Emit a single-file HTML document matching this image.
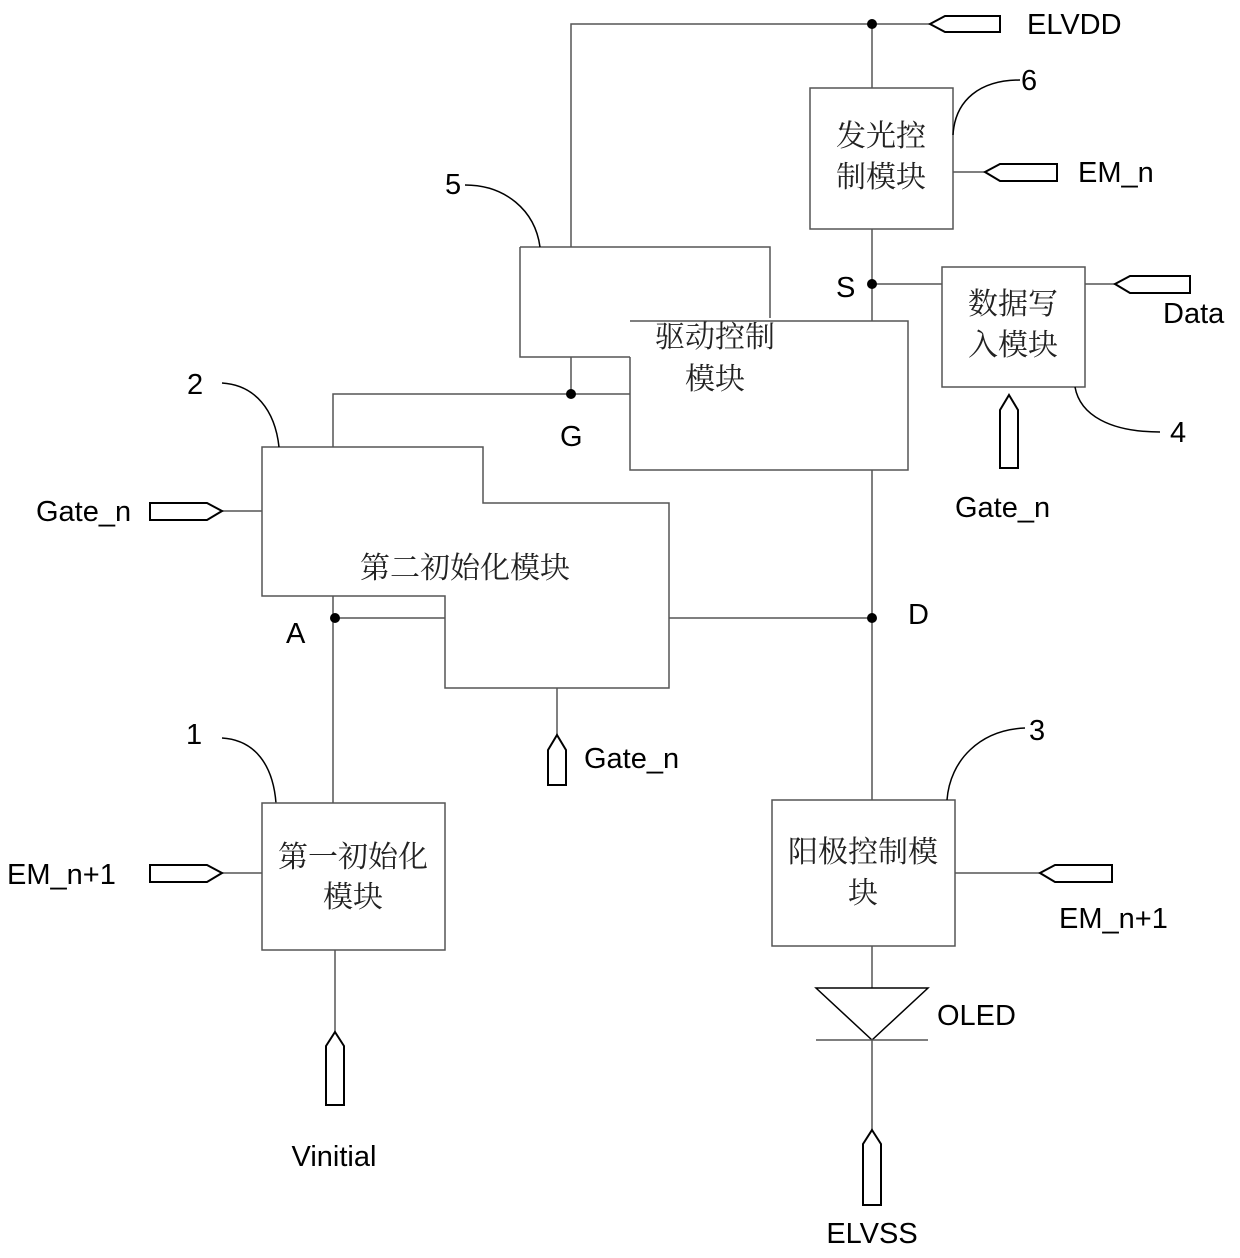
<!DOCTYPE html>
<html><head><meta charset="utf-8"><style>
html,body{margin:0;padding:0;background:#fff;}
svg{display:block;}
.t{font-family:"Liberation Sans","Noto Sans CJK SC",sans-serif;font-size:29px;fill:#000;}
.c{font-family:"Noto Serif CJK SC","Noto Sans CJK SC",serif;font-size:30px;fill:#222;}
</style></head><body>
<svg width="1240" height="1258" viewBox="0 0 1240 1258" xmlns="http://www.w3.org/2000/svg">
<g fill="none" stroke="#555" stroke-width="1.5">
<path d="M571 247 V24 H930"/>
<path d="M930 24 L945 16 H1000 V32 H945 Z" stroke="#000" stroke-width="2"/>
<path d="M872 24 V88"/>
<rect x="810" y="88" width="143" height="141"/>
<path d="M953 172 H985"/>
<path d="M985 172 L1000 164 H1057 V181 H1000 Z" stroke="#000" stroke-width="2"/>
<path d="M953 135 C955 100 980 80 1020 80" stroke="#000"/>
<path d="M872 229 V321"/>
<path d="M872 284 H942"/>
<rect x="942" y="267" width="143" height="120"/>
<path d="M1085 284 H1115"/>
<path d="M1115 284 L1130 276 H1190 V293 H1130 Z" stroke="#000" stroke-width="2"/>
<path d="M1009 395 L1018 410 V468 H1000 V410 Z" stroke="#000" stroke-width="2"/>
<path d="M1075 387 C1080 415 1110 432 1160 432" stroke="#000"/>
<path d="M520 247 H770 V318"/>
<path d="M520 247 V357 H630"/>
<path d="M630 321 H908 V470 H630 V357"/>
<path d="M465 185 C505 185 535 210 540 247" stroke="#000"/>
<path d="M571 357 V394 M333 447 V394 H630"/>
<path d="M262 447 H483 V503 H669 V688 H445 V596 H262 Z"/>
<path d="M222 511 H262"/>
<path d="M222 511 L207 503 H150 V520 H207 Z" stroke="#000" stroke-width="2"/>
<path d="M222 383 C255 385 275 410 279 447" stroke="#000"/>
<path d="M333 596 V803 M333 618 H445"/>
<path d="M669 618 H872 M872 470 V800"/>
<path d="M557 688 V735"/>
<path d="M557 735 L566 750 V785 H548 V750 Z" stroke="#000" stroke-width="2"/>
<path d="M222 738 C255 740 273 765 276 803" stroke="#000"/>
<rect x="262" y="803" width="183" height="147"/>
<path d="M222 873 H262"/>
<path d="M222 873 L207 865 H150 V882 H207 Z" stroke="#000" stroke-width="2"/>
<path d="M335 950 V1032"/>
<path d="M335 1032 L344 1046 V1105 H326 V1046 Z" stroke="#000" stroke-width="2"/>
<rect x="772" y="800" width="183" height="146"/>
<path d="M947 800 C950 760 980 730 1025 728" stroke="#000"/>
<path d="M955 873 H1040"/>
<path d="M1040 873 L1055 865 H1112 V882 H1055 Z" stroke="#000" stroke-width="2"/>
<path d="M872 946 V988"/>
<path d="M816 988 H928 L872 1040 Z" stroke="#000"/>
<path d="M816 1040 H928"/>
<path d="M872 1040 V1130"/>
<path d="M872 1130 L881 1144 V1205 H863 V1144 Z" stroke="#000" stroke-width="2"/>
</g>
<g fill="#000">
<circle cx="872" cy="24" r="5"/><circle cx="872" cy="284" r="5"/>
<circle cx="571" cy="394" r="5"/><circle cx="335" cy="618" r="5"/>
<circle cx="872" cy="618" r="5"/>
</g>
<text class="t" x="1027" y="34">ELVDD</text>
<text class="t" x="1021" y="90">6</text>
<text class="t" x="1078" y="182">EM_n</text>
<text class="t" x="836" y="297">S</text>
<text class="t" x="1163" y="323">Data</text>
<text class="t" x="1170" y="442">4</text>
<text class="t" x="955" y="517">Gate_n</text>
<text class="t" x="445" y="194">5</text>
<text class="t" x="187" y="394">2</text>
<text class="t" x="560" y="446">G</text>
<text class="t" x="36" y="521">Gate_n</text>
<text class="t" x="286" y="643">A</text>
<text class="t" x="908" y="624">D</text>
<text class="t" x="584" y="768">Gate_n</text>
<text class="t" x="186" y="744">1</text>
<text class="t" x="1029" y="740">3</text>
<text class="t" x="7" y="884">EM_n+1</text>
<text class="t" x="1059" y="928">EM_n+1</text>
<text class="t" x="937" y="1025">OLED</text>
<text class="t" x="334" y="1166" text-anchor="middle">Vinitial</text>
<text class="t" x="872" y="1243" text-anchor="middle">ELVSS</text>
<g class="c" text-anchor="middle">
<text x="881" y="146">发光控</text><text x="881" y="187">制模块</text>
<text x="1013" y="314">数据写</text><text x="1013" y="355">入模块</text>
<text x="715" y="347">驱动控制</text><text x="715" y="389">模块</text>
<text x="465" y="578">第二初始化模块</text>
<text x="353" y="867">第一初始化</text><text x="353" y="907">模块</text>
<text x="863" y="862">阳极控制模</text><text x="863" y="903">块</text>
</g>
</svg>
</body></html>
